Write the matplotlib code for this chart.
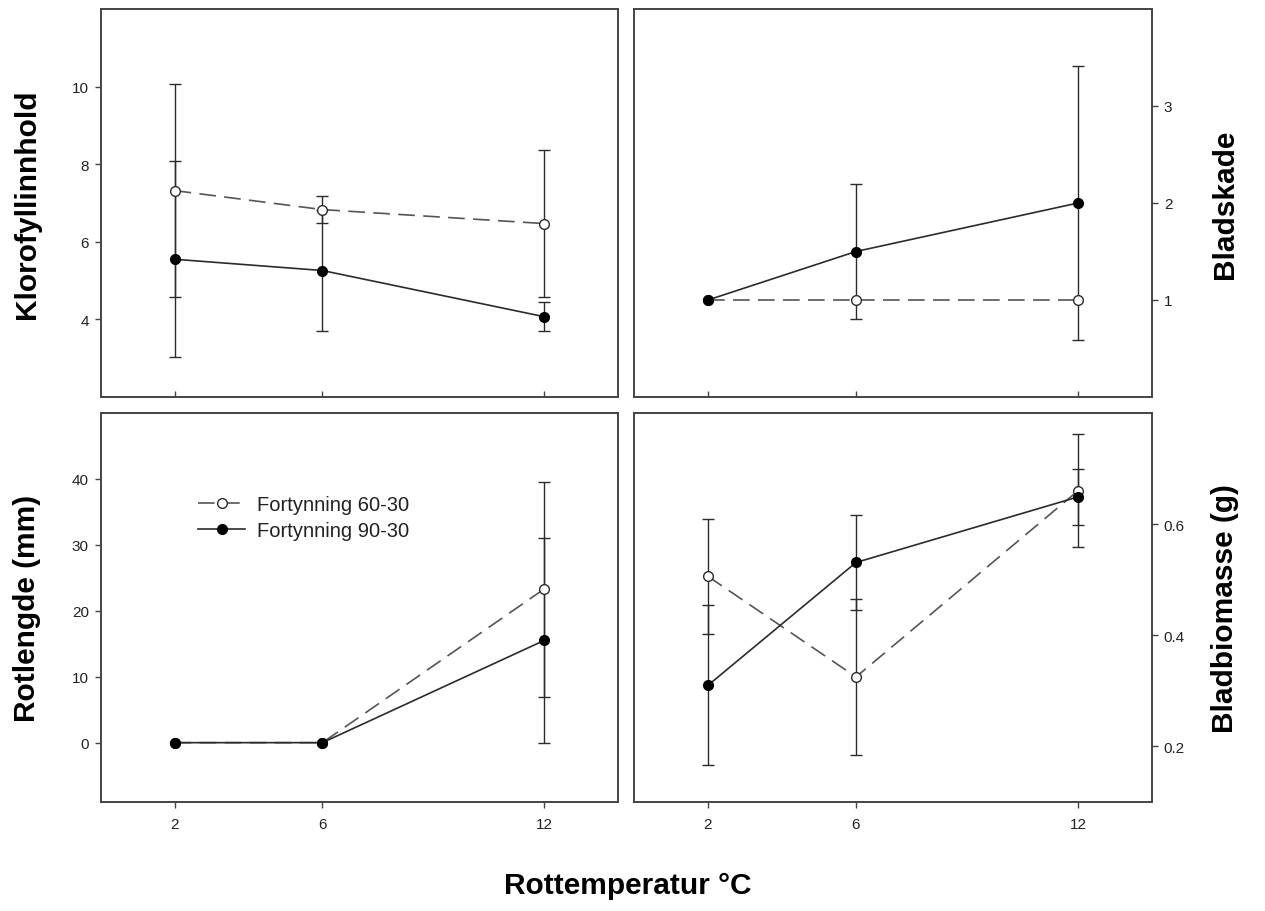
import numpy as np
import matplotlib.pyplot as plt

plt.rcParams['font.family'] = ['Liberation Sans', 'DejaVu Sans']

# Rottemperatur (°C)
temp = [2, 6, 12]

# Klorofyllinnhold
klorofyll_60 = [7.32, 6.83, 6.47]
klorofyll_60_err = [2.75, 0.34, 1.89]
klorofyll_90 = [5.55, 5.26, 4.07]
klorofyll_90_err = [2.53, 1.55, 0.38]

# Bladskade
bladskade_60 = [1.0, 1.0, 1.0]
bladskade_60_err = [0.0, 0.0, 0.0]
bladskade_90 = [1.0, 1.5, 2.0]
bladskade_90_err = [0.0, 0.70, 1.41]

# Rotlengde (mm)
rotlengde_60 = [0.0, 0.0, 23.3]
rotlengde_60_err = [0.0, 0.0, 16.3]
rotlengde_90 = [0.0, 0.0, 15.5]
rotlengde_90_err = [0.0, 0.0, 15.5]

# Bladbiomasse (g)
biomasse_60 = [0.506, 0.325, 0.660]
biomasse_60_err = [0.104, 0.140, 0.102]
biomasse_90 = [0.310, 0.531, 0.649]
biomasse_90_err = [0.144, 0.085, 0.050]

# farger og stil
frame_col = '#444444'
line_col = '#2b2b2b'
dash_col = '#555555'

fig = plt.figure(figsize=(12.65, 9.12), dpi=100)

W, H = 1265, 912
def pos(x0, x1, y0, y1):
    return [x0 / W, 1 - y1 / H, (x1 - x0) / W, (y1 - y0) / H]

ax_tl = fig.add_axes(pos(100.7, 618, 10, 398))
ax_tr = fig.add_axes(pos(634, 1152, 10, 398))
ax_bl = fig.add_axes(pos(100.7, 618, 414, 803))
ax_br = fig.add_axes(pos(634, 1152, 414, 803))

panels = [
    (ax_tl, klorofyll_60, klorofyll_60_err, klorofyll_90, klorofyll_90_err,
     'Klorofyllinnhold', (2, 12), [4, 6, 8, 10], 'left', False),
    (ax_tr, bladskade_60, bladskade_60_err, bladskade_90, bladskade_90_err,
     'Bladskade', (0, 4), [1, 2, 3], 'right', False),
    (ax_bl, rotlengde_60, rotlengde_60_err, rotlengde_90, rotlengde_90_err,
     'Rotlengde (mm)', (-9, 50), [0, 10, 20, 30, 40], 'left', True),
    (ax_br, biomasse_60, biomasse_60_err, biomasse_90, biomasse_90_err,
     'Bladbiomasse (g)', (0.1, 0.8), [0.2, 0.4, 0.6], 'right', True),
]

def no_zero(err):
    err = np.asarray(err, dtype=float)
    return np.where(err > 0, err, np.nan)

for ax, y60, e60, y90, e90, label, ylim, yticks, side, bottom in panels:
    # feilstolper
    ax.errorbar(temp, y60, yerr=no_zero(e60), fmt='none', ecolor=line_col,
                elinewidth=1.0, capsize=4, capthick=1.0, zorder=2)
    ax.errorbar(temp, y90, yerr=no_zero(e90), fmt='none', ecolor=line_col,
                elinewidth=1.0, capsize=4, capthick=1.0, zorder=2)
    # serier
    ax.plot(temp, y60, color=dash_col, lw=1.2, dashes=(10, 5),
            marker='o', ms=7, mfc='white', mec=line_col, mew=1.0,
            label='Fortynning 60-30', zorder=3)
    ax.plot(temp, y90, color=line_col, lw=1.2, linestyle='-',
            marker='o', ms=7, mfc='black', mec='black', mew=1.0,
            label='Fortynning 90-30', zorder=4)

    ax.set_xlim(0, 14)
    ax.set_ylim(*ylim)
    ax.set_xticks(temp)
    ax.set_yticks(yticks)
    if ylim[1] < 1:
        ax.set_yticklabels([f'{t:.1f}' for t in yticks])

    for s in ax.spines.values():
        s.set_color(frame_col)
        s.set_linewidth(1.4)

    if side == 'right':
        ax.yaxis.tick_right()
        ax.yaxis.set_label_position('right')
        lx = (1225 - 634) / 518
    else:
        lx = (27 - 100.7) / 517.3
    ax.set_ylabel(label, fontsize=21.5, fontweight='bold', va='center')
    ax.yaxis.set_label_coords(lx, 0.5)

    ax.tick_params(axis='y', direction='out', length=4.5, width=1.0,
                   color=frame_col, labelsize=11, labelcolor='#222222', pad=4)
    if bottom:
        ax.tick_params(axis='x', direction='out', length=4, width=1.0,
                       color=frame_col, labelsize=11, labelcolor='#222222', pad=7)
    else:
        ax.tick_params(axis='x', direction='in', length=4, width=1.0,
                       color=frame_col, labelbottom=False)

leg = ax_bl.legend(loc='upper left', bbox_to_anchor=(0.188, 0.79),
                   frameon=False, fontsize=14.5, handlelength=2.35,
                   handletextpad=0.6, labelspacing=0.35, borderpad=0,
                   borderaxespad=0)
for t in leg.get_texts():
    t.set_color('#222222')

fig.text(628 / W, 1 - 886 / H, 'Rottemperatur °C', fontsize=21.5,
         fontweight='bold', ha='center', va='center')

fig.savefig('out.png', dpi=100, facecolor='white')
